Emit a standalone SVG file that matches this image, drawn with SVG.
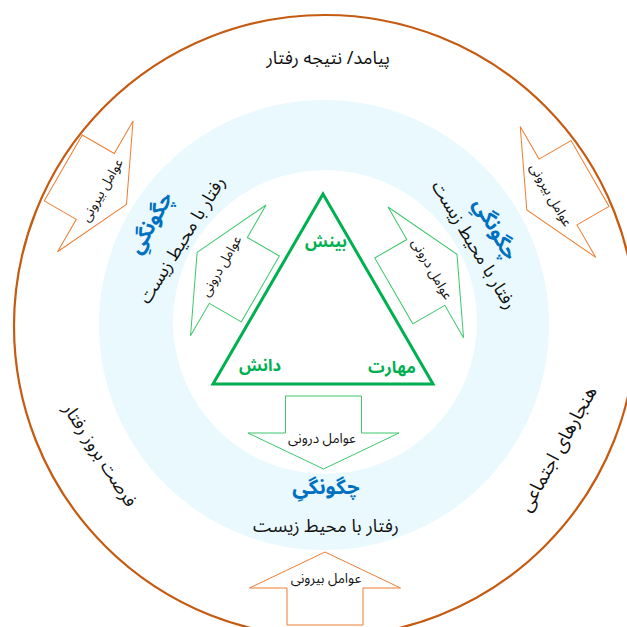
<svg xmlns="http://www.w3.org/2000/svg" width="627" height="627" viewBox="0 0 627 627">
<style>
  text { font-family: "Noto Sans Arabic", "DejaVu Sans", sans-serif; direction: rtl; text-anchor: middle; dominant-baseline: central; fill: #111; }
  .t18 { font-size: 18px; }
  .lbl { font-size: 13.5px; }
  .blue { font-size: 20.5px; font-weight: bold; fill: #0070C0; }
  .green { font-size: 16.5px; font-weight: bold; fill: #00B050; }
  .oarw { fill: #fff; stroke: #ED7D31; stroke-width: 1; }
  .garw { fill: #fff; stroke: #3CC76A; stroke-width: 1; }
</style>
<defs>
  <polygon id="arw" points="0,-36 75.5,0 38,0 38,37 -38,37 -38,0 -75.5,0"/>
</defs>
<rect width="627" height="627" fill="#fff"/>
<g id="outer-ring">
  <circle cx="325" cy="326" r="311" fill="#fff" stroke="#C55A11" stroke-width="2.2"/>
  <text class="t18" x="328" y="58">پیامد/ نتیجه رفتار</text>
  <text class="t18" transform="translate(100,455) rotate(57)">فرصت بروز رفتار</text>
  <text class="t18" style="font-size:19px" transform="translate(558,449) rotate(-61)">هنجارهای اجتماعی</text>
</g>
<g id="middle-ring">
  <circle cx="324" cy="325" r="225" fill="#E9F9FD"/>
</g>
<g id="inner-circle">
  <circle cx="325" cy="322" r="152" fill="#fff"/>
</g>
<g id="triangle">
  <polygon points="323,194 213,384 433,384" fill="none" stroke="#00B050" stroke-width="3"/>
  <text class="green" x="326" y="241">بینش</text>
  <text class="green" x="260" y="365">دانش</text>
  <text class="green" x="392" y="367">مهارت</text>
</g>
<g id="how-left">
  <text class="blue" transform="translate(151,223) rotate(-60)">چگونگیِ</text>
  <text class="t18" transform="translate(182,240) rotate(-58)">رفتار با محیط زیست</text>
</g>
<g id="how-right">
  <text class="blue" transform="translate(495,229) rotate(60)">چگونگیِ</text>
  <text class="t18" transform="translate(474,245) rotate(59)">رفتار با محیط زیست</text>
</g>
<g id="how-bottom">
  <text class="blue" x="326" y="487">چگونگیِ</text>
  <text class="t18" x="326" y="526">رفتار با محیط زیست</text>
</g>
<g id="connectors">
  <g id="ext-left">
    <use href="#arw" class="oarw" transform="translate(95.3,186.4) rotate(120)"/>
    <text class="lbl" transform="translate(102,190) rotate(-60)">عوامل بیرونی</text>
  </g>
  <g id="ext-right">
    <use href="#arw" class="oarw" transform="translate(558,192) rotate(-120)"/>
    <text class="lbl" transform="translate(551,195) rotate(60)">عوامل بیرونی</text>
  </g>
  <g id="ext-bottom">
    <use href="#arw" class="oarw" transform="translate(325,588)"/>
    <text class="lbl" x="326" y="578">عوامل بیرونی</text>
  </g>
  <g id="int-left">
    <use href="#arw" class="garw" transform="translate(228.3,270.4) rotate(-60)"/>
    <text class="lbl" transform="translate(221,266) rotate(-60)">عوامل درونی</text>
  </g>
  <g id="int-right">
    <use href="#arw" class="garw" transform="translate(425.8,272.4) rotate(60)"/>
    <text class="lbl" transform="translate(432,269) rotate(60)">عوامل درونی</text>
  </g>
  <g id="int-bottom">
    <use href="#arw" class="garw" transform="translate(323.5,433) rotate(180)"/>
    <text class="lbl" x="322" y="438">عوامل درونی</text>
  </g>
</g>
</svg>
